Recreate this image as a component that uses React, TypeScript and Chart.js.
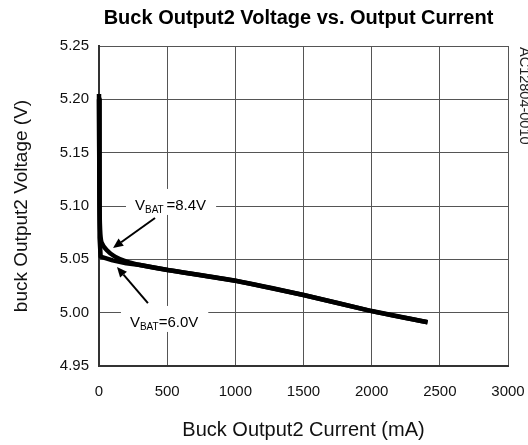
import React, { useEffect, useRef } from "react";
import { Chart, registerables } from "chart.js";

Chart.register(...registerables);

const TITLE = "Buck Output2 Voltage vs. Output Current";
const X_TITLE = "Buck Output2 Current (mA)";
const Y_TITLE = "buck Output2 Voltage (V)";
const SIDE_CODE = "AC12804-0010";

const xTickValues = [0, 500, 1000, 1500, 2000, 2500, 3000];
const yTickValues = [4.95, 5.0, 5.05, 5.1, 5.15, 5.2, 5.25];

const vbat84Current = [0, 3, 8, 18, 56, 117, 203, 301, 504, 1000, 1500, 2000, 2410];
const vbat84Voltage = [5.205, 5.11, 5.078, 5.066, 5.0588, 5.0525, 5.0478, 5.0447, 5.04, 5.03, 5.0166, 5.0015, 4.991];

const vbat60Current = [0, 3, 6, 12, 100, 200, 301, 504, 1000, 1500, 2000, 2410];
const vbat60Voltage = [5.2, 5.11, 5.07, 5.0525, 5.049, 5.0462, 5.0447, 5.04, 5.03, 5.0166, 5.0015, 4.991];

const FONT = "'Liberation Sans', Arial, Helvetica, sans-serif";

type Note = {
  volts: string;
  space: string;
  textX: number;
  textY: number;
  fromX: number;
  fromY: number;
  toX: number;
  toY: number;
};

const notes: Note[] = [
  { volts: "=8.4V", space: " ", textX: 264, textY: 5.101, fromX: 411, fromY: 5.0888, toX: 103, toY: 5.0606 },
  { volts: "=6.0V", space: "", textX: 227, textY: 4.9913, fromX: 359, fromY: 5.009, toX: 132, toY: 5.0428 },
];

const toPoints = (xs: number[], ys: number[]) => xs.map((x, i) => ({ x, y: ys[i] }));

const overlayPlugin = {
  id: "overlay",
  afterDraw(chart: any) {
    const { ctx, scales, chartArea } = chart;
    const xs = scales.x;
    const ys = scales.y;
    ctx.save();
    // Title
    ctx.fillStyle = "#000";
    ctx.font = `bold 20px ${FONT}`;
    ctx.textAlign = "center";
    ctx.textBaseline = "middle";
    ctx.fillText(TITLE, (chartArea.left + chartArea.right) / 2 - 5, 18);

    // Annotations
    for (const n of notes) {
      const tx = xs.getPixelForValue(n.textX);
      const ty = ys.getPixelForValue(n.textY);
      ctx.font = `15px ${FONT}`;
      const wV = ctx.measureText("V").width;
      ctx.font = `10px ${FONT}`;
      const wSub = ctx.measureText("BAT" + n.space).width;
      ctx.font = `15px ${FONT}`;
      const wRest = ctx.measureText(n.volts).width;
      const total = wV + wSub + wRest;
      ctx.fillStyle = "#fff";
      ctx.fillRect(tx - 9, ty - 16, total + 19, 26);
      ctx.fillStyle = "#000";
      ctx.textAlign = "left";
      ctx.textBaseline = "alphabetic";
      ctx.font = `15px ${FONT}`;
      ctx.fillText("V", tx, ty + 5);
      ctx.font = `10px ${FONT}`;
      ctx.fillText("BAT" + n.space, tx + wV, ty + 8);
      ctx.font = `15px ${FONT}`;
      ctx.fillText(n.volts, tx + wV + wSub, ty + 5);

      const fx = xs.getPixelForValue(n.fromX);
      const fy = ys.getPixelForValue(n.fromY);
      const ex = xs.getPixelForValue(n.toX);
      const ey = ys.getPixelForValue(n.toY);
      const ang = Math.atan2(ey - fy, ex - fx);
      const headLen = 10;
      const headW = 4.5;
      const bx = ex - headLen * Math.cos(ang);
      const by = ey - headLen * Math.sin(ang);
      ctx.strokeStyle = "#000";
      ctx.lineWidth = 2;
      ctx.beginPath();
      ctx.moveTo(fx, fy);
      ctx.lineTo(bx, by);
      ctx.stroke();
      ctx.beginPath();
      ctx.moveTo(ex, ey);
      ctx.lineTo(bx + headW * Math.sin(ang), by - headW * Math.cos(ang));
      ctx.lineTo(bx - headW * Math.sin(ang), by + headW * Math.cos(ang));
      ctx.closePath();
      ctx.fill();
    }

    // Side code
    ctx.fillStyle = "#222";
    ctx.font = `14.5px ${FONT}`;
    ctx.translate(524, chartArea.top + 1);
    ctx.rotate(Math.PI / 2);
    ctx.textAlign = "left";
    ctx.textBaseline = "middle";
    ctx.fillText(SIDE_CODE, 0, 0);
    ctx.restore();
  },
};

export default function App() {
  const ref = useRef<HTMLCanvasElement | null>(null);

  useEffect(() => {
    if (!ref.current) return;
    const chart = new Chart(ref.current, {
      type: "line",
      data: {
        datasets: [
          {
            label: "VBAT=8.4V",
            data: toPoints(vbat84Current, vbat84Voltage),
            borderColor: "#000",
            borderWidth: 4.5,
            pointRadius: 0,
            tension: 0.2,
            fill: false,
            clip: false as any,
            borderJoinStyle: "round",
          },
          {
            label: "VBAT=6.0V",
            data: toPoints(vbat60Current, vbat60Voltage),
            borderColor: "#000",
            borderWidth: 4.5,
            pointRadius: 0,
            tension: 0,
            fill: false,
            clip: false as any,
            borderJoinStyle: "round",
          },
        ],
      },
      options: {
        animation: false,
        responsive: false,
        maintainAspectRatio: false,
        layout: { padding: { top: 46, right: 20, bottom: 0, left: 0 } },
        plugins: {
          legend: { display: false },
          tooltip: { enabled: false },
          title: { display: false },
        },
        scales: {
          x: {
            type: "linear",
            min: 0,
            max: 3000,
            afterBuildTicks: (s: any) => {
              s.ticks = xTickValues.map((v) => ({ value: v }));
            },
            afterFit: (s: any) => {
              s.height = 79;
              s.paddingLeft = 0;
              s.paddingRight = 0;
            },
            grid: { color: "#555", lineWidth: 1, drawTicks: false },
            border: { color: "#333", width: 2 },
            ticks: {
              padding: 17,
              color: "#111",
              font: { family: FONT, size: 15 },
              maxRotation: 0,
              callback: (v: any) => String(v),
            },
            title: {
              display: true,
              text: X_TITLE,
              color: "#111",
              font: { family: FONT, size: 20 },
              padding: { top: 0, bottom: 3 },
            },
          },
          y: {
            type: "linear",
            min: 4.95,
            max: 5.25,
            afterBuildTicks: (s: any) => {
              s.ticks = yTickValues.map((v) => ({ value: v }));
            },
            afterFit: (s: any) => {
              s.width = 99;
            },
            grid: { color: "#555", lineWidth: 1, drawTicks: false },
            border: { color: "#333", width: 2 },
            ticks: {
              padding: 10,
              color: "#111",
              font: { family: FONT, size: 15 },
              callback: (v: any) => Number(v).toFixed(2),
            },
            title: {
              display: true,
              text: Y_TITLE,
              color: "#111",
              font: { family: FONT, size: 19 },
              padding: { top: 10, bottom: 0 },
            },
          },
        },
      },
      plugins: [overlayPlugin],
    });
    return () => chart.destroy();
  }, []);

  return (
    <div style={{ position: "fixed", left: 0, top: 0, width: 528, height: 445, background: "#fff" }}>
      <canvas ref={ref} width={528} height={445} style={{ width: 528, height: 445, display: "block" }} />
    </div>
  );
}
